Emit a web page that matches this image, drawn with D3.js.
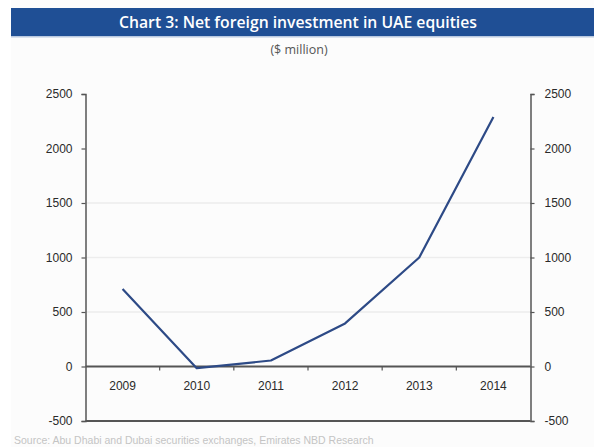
<!DOCTYPE html>
<html>
<head>
<meta charset="utf-8">
<script src="https://cdn.jsdelivr.net/npm/d3@7"></script>
<style>
  body { margin: 0; background: #fff; }
  svg { display: block; }
</style>
</head>
<body>
<svg id="board" width="594" height="447"></svg>
<script>
// chart data
let years = ['2009', '2010', '2011', '2012', '2013', '2014']
let netInvestment = [710, -15, 55, 395, 1000, 2290]
let yTicks = [-500, 0, 500, 1000, 1500, 2000, 2500]
let gridValues = [500, 1000, 1500]

let svg = d3.select('#board')

// page background + title bar
svg.append('rect').attr('x', 11).attr('y', 0).attr('width', 583).attr('height', 447).attr('fill', '#fcfcfc')
svg.append('rect').attr('x', 11).attr('y', 8).attr('width', 583).attr('height', 28).attr('fill', '#1f4f95')
svg.append('rect').attr('x', 11).attr('y', 36).attr('width', 583).attr('height', 1.5).attr('fill', '#b9c9e0')

svg.append('text')
    .attr('x', 298).attr('y', 28)
    .attr('text-anchor', 'middle')
    .attr('font-family', 'Open Sans, sans-serif')
    .attr('font-weight', 600)
    .attr('font-size', 17)
    .attr('fill', '#fff')
    .attr('textLength', 358)
    .attr('lengthAdjust', 'spacingAndGlyphs')
    .text('Chart 3: Net foreign investment in UAE equities')

svg.append('text')
    .attr('x', 299).attr('y', 54)
    .attr('text-anchor', 'middle')
    .attr('font-family', 'Open Sans, sans-serif')
    .attr('font-size', 12.5)
    .attr('fill', '#555')
    .text('($ million)')

// scales
let plotLeft = 85.5, plotRight = 530.5, plotTop = 94, plotBottom = 421
let x = d3.scaleBand().domain(years).range([plotLeft, plotRight])
let y = d3.scaleLinear().domain([-500, 2500]).range([plotBottom, plotTop])

// plain hyphen for negatives, as in the original
let fmt = (v) => String(v)

// faint gridlines
svg.selectAll('.grid')
    .data(gridValues)
    .enter()
    .append('line')
    .attr('x1', plotLeft).attr('x2', plotRight)
    .attr('y1', (v) => y(v)).attr('y2', (v) => y(v))
    .attr('stroke', '#ededed')
    .attr('stroke-width', 1.5)

// left & right axes
let styleAxis = (g) => {
    g.select('.domain').attr('stroke', '#555').attr('stroke-width', 1.5)
    g.selectAll('.tick line').attr('stroke', '#555').attr('stroke-width', 1.2)
    g.selectAll('.tick text')
        .attr('font-family', 'Liberation Sans, Arial, sans-serif')
        .attr('font-size', 12)
        .attr('fill', '#2a2a2a')
}

svg.append('g')
    .attr('transform', 'translate(' + plotLeft + ',0)')
    .call(d3.axisLeft(y).tickValues(yTicks).tickSize(4).tickSizeOuter(4).tickPadding(9).tickFormat(fmt))
    .call(styleAxis)

svg.append('g')
    .attr('transform', 'translate(' + plotRight + ',0)')
    .call(d3.axisRight(y).tickValues(yTicks).tickSize(4).tickSizeOuter(4).tickPadding(10).tickFormat(fmt))
    .call(styleAxis)

// bottom frame line at -500
svg.append('line')
    .attr('x1', plotLeft).attr('x2', plotRight)
    .attr('y1', y(-500)).attr('y2', y(-500))
    .attr('stroke', '#555').attr('stroke-width', 1.8)

// zero axis with category boundary ticks
svg.append('line')
    .attr('x1', plotLeft).attr('x2', plotRight)
    .attr('y1', y(0)).attr('y2', y(0))
    .attr('stroke', '#555').attr('stroke-width', 1.8)

svg.selectAll('.xtick')
    .data(years.slice(1))
    .enter()
    .append('line')
    .attr('x1', (d) => x(d)).attr('x2', (d) => x(d))
    .attr('y1', y(0)).attr('y2', y(0) + 4)
    .attr('stroke', '#555').attr('stroke-width', 1.2)

svg.selectAll('.xlabel')
    .data(years)
    .enter()
    .append('text')
    .attr('x', (d) => x(d) + x.bandwidth() / 2)
    .attr('y', y(0) + 23)
    .attr('text-anchor', 'middle')
    .attr('font-family', 'Liberation Sans, Arial, sans-serif')
    .attr('font-size', 12)
    .attr('fill', '#2a2a2a')
    .text((d) => d)

// the series line
let line = d3.line()
    .x((d, i) => x(years[i]) + x.bandwidth() / 2)
    .y((d) => y(d))

svg.append('path')
    .datum(netInvestment)
    .attr('d', line)
    .attr('fill', 'none')
    .attr('stroke', '#2d4a86')
    .attr('stroke-width', 2.2)
    .attr('stroke-linejoin', 'round')

// faint source line at the bottom edge
svg.append('text')
    .attr('x', 14).attr('y', 444)
    .attr('font-family', 'Liberation Sans, Arial, sans-serif')
    .attr('font-size', 10.5)
    .attr('fill', '#c4c4c4')
    .text('Source: Abu Dhabi and Dubai securities exchanges, Emirates NBD Research')
</script>
</body>
</html>
